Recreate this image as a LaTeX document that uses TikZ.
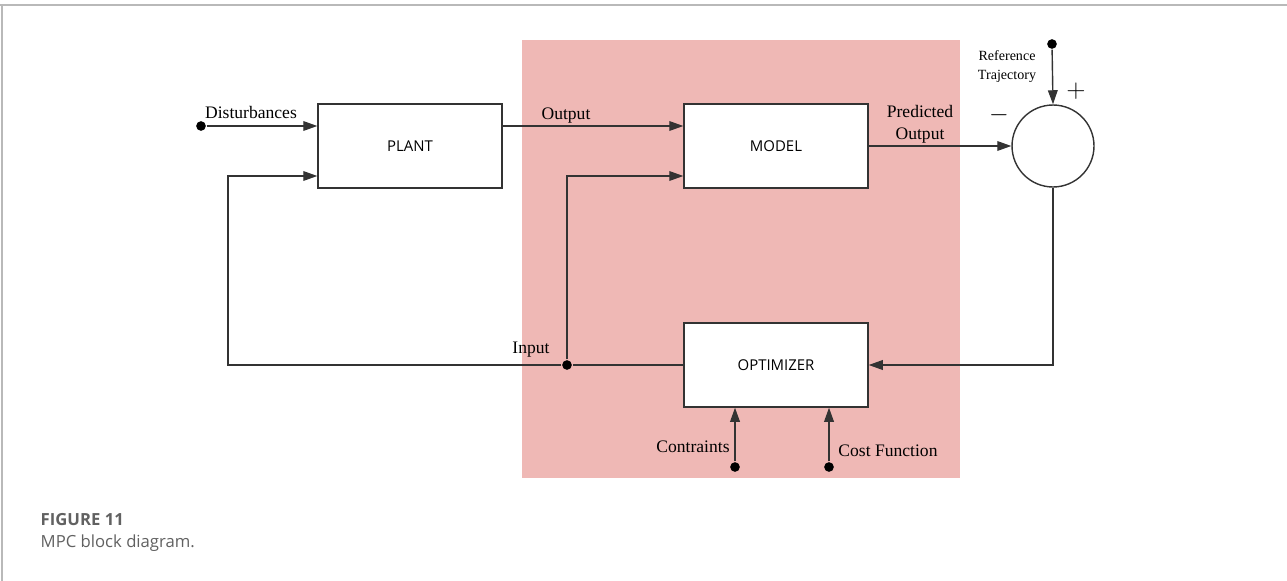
\documentclass[tikz,border=0pt]{standalone}
\usepackage{fontspec}
\setmainfont{Liberation Serif}
\newfontfamily\boxfont{Open Sans}
\usetikzlibrary{arrows.meta, positioning, calc}
\definecolor{mpcpink}{HTML}{EFB8B5}
\definecolor{wire}{HTML}{333333}

\tikzset{
  blk/.style={draw=wire, fill=white, minimum width=3.68cm, minimum height=1.68cm,
    font=\boxfont\fontsize{8.5}{10}\selectfont},
  junc/.style={circle, fill=black, inner sep=0pt, minimum size=5.5pt},
  lbl/.style={font=\fontsize{10}{12.5}\selectfont, inner sep=0pt}
}

\begin{document}
\begin{tikzpicture}[x=0.02cm, y=-0.02cm, >={Triangle[length=8pt,width=5.5pt]},
    line width=0.8pt, draw=wire]
    \useasboundingbox (0,0) rectangle (1287,581);
    % page frame
    \draw[gray!55, line width=1pt] (0,5) -- (1287,5);
    \draw[gray!55, line width=0.6pt] (2,5) -- (2,581);
    \fill[mpcpink] (522,40) rectangle (960,478);

    \node[blk] (plant) at (410,146) {PLANT};
    \node[blk] (model) at (776,146) {MODEL};
    \node[blk] (opt) at (776,365) {OPTIMIZER};
    \node[draw=wire, fill=white, circle, minimum size=1.64cm, inner sep=0pt] (sum) at (1053,146) {};

    \node[junc] (dist) at (201,126) {};
    \node[junc] (ref) at (1052,44) {};
    \node[junc] (inp) at (567,365) {};
    \node[junc] (con) at (735,467) {};
    \node[junc] (cost) at (829,467) {};
    \coordinate (fb) at (228,365);

    \draw[->] (dist) -- (plant.west |- dist);
    \draw[->] (plant.east |- dist) -- (model.west |- dist);
    \draw[->] (model.east) -- (sum.west);
    \draw[->] (ref) -- (sum.north);
    \draw[->] (sum.south) |- (opt.east);
    \draw (opt.west) -- (inp);
    \draw[->] (inp) -- (fb) |- ($(plant.west)+(0,30)$);
    \draw[->] (inp) |- ($(model.west)+(0,30)$);
    \foreach \s in {con,cost} \draw[->] (\s) -- (\s |- opt.south);

    \node[lbl] (tdist) at (251,112) {Disturbances};
    \node[lbl] (tout) at (566,116) {Output};
    \node[lbl, align=center] (tpred) at (920,124) {Predicted\\Output};
    \node[lbl, align=center, font=\fontsize{8}{10.8}\selectfont] (tref) at (1007,67) {Reference\\Trajectory};
    \node[lbl] (tminus) at (999,115) {\Large$-$};
    \node[lbl] (tplus) at (1076,91) {\Large$+$};
    \node[lbl] (tin) at (531,350) {Input};
    \node[lbl] (tcon) at (693,447) {Contraints};
    \node[lbl] (tcost) at (888,451) {Cost Function};

    \node[anchor=west, inner sep=0pt, text=black!62, font=\boxfont\bfseries\fontsize{9.5}{11}\selectfont] (fig) at (40,520) {FIGURE 11};
    \node[anchor=west, inner sep=0pt, text=black!62, font=\boxfont\fontsize{9.5}{11}\selectfont] (cap) at (40,543) {MPC block diagram.};
\end{tikzpicture}
\end{document}
